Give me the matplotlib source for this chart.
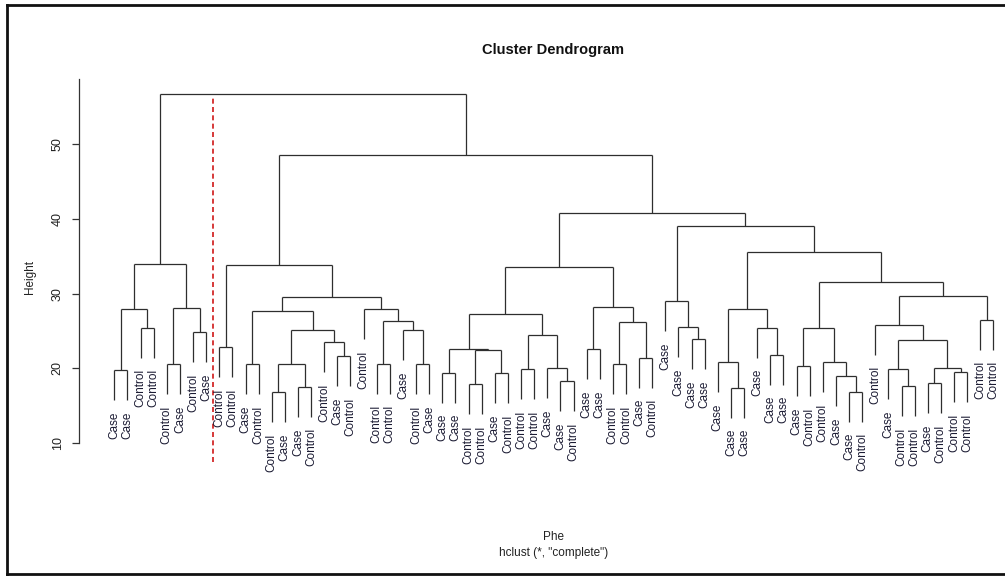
import matplotlib
matplotlib.use("Agg")
import matplotlib.pyplot as plt
from matplotlib.lines import Line2D

# ---------------- data ----------------
leaf_labels = [
    "Case", "Case", "Control", "Control", "Control", "Case", "Control", "Case",
    "Control", "Control", "Case", "Control", "Control", "Case", "Case", "Control",
    "Control", "Case", "Control", "Control", "Control", "Control", "Case", "Control",
    "Case", "Case", "Case", "Control", "Control", "Case", "Control", "Control",
    "Control", "Case", "Case", "Control", "Case", "Case", "Control", "Control",
    "Case", "Control", "Case", "Case", "Case", "Case", "Case", "Case",
    "Case", "Case", "Case", "Case", "Case", "Control", "Control", "Case",
    "Case", "Control", "Control", "Case", "Control", "Control", "Case", "Control",
    "Control", "Control", "Control", "Control",
]

# R-style merge matrix: negative = leaf (1-based, in plotted order), positive = earlier merge (1-based)
merge_left = [
    -1, -3, 1, -5, -7, 4, 3,
    -9, -11, -13, -15, 10, -18, -17, 12, 9, -21, -24, -23, 17, -20, 16, 8,
    -26, -28, -30, 25, 24, -32, -35, -34, 29, 28, -37, -39, -41, 35, 34, 33,
    -45, -44, -43, -48, -47, -51, -50, 44, -53, -57, -56, -55, 48, -61, -60,
    -63, -65, 55, 54, -59, -67, 59, 52, 47, 42, 39, 23, 7,
]
merge_right = [
    -2, -4, 2, -6, -8, 5, 6,
    -10, -12, -14, -16, 11, -19, 13, 14, 15, -22, -25, 18, 19, 20, 21, 22,
    -27, -29, -31, 26, 27, -33, -36, 30, 31, 32, -38, -40, -42, 36, 37, 38,
    -46, 40, 41, -49, 43, -52, 45, 46, -54, -58, 49, 50, 51, -62, 53,
    -64, -66, 56, 57, 58, -68, 60, 61, 62, 63, 64, 65, 66,
]
merge_height = [
    19.79, 25.41, 27.91, 20.55, 24.87, 28.05, 34.02,
    22.86, 20.55, 16.80, 17.51, 20.55, 21.62, 23.49, 25.14, 27.68, 20.63, 20.55, 25.14, 26.35, 27.91, 29.56, 33.88,
    19.42, 17.87, 19.34, 22.46, 22.56, 19.88, 18.27, 20.01, 24.47, 27.32, 22.56, 20.55, 21.43, 26.17, 28.18, 33.57,
    23.90, 25.54, 28.98, 17.42, 20.82, 21.83, 25.45, 27.99, 20.28, 16.88, 18.94, 20.82, 25.45, 17.64, 19.88,
    18.00, 19.48, 20.01, 23.76, 25.81, 26.48, 29.73, 31.57, 35.58, 39.06, 40.80, 48.58, 56.73,
]
y_ticks = [10, 20, 30, 40, 50]
cut_position = 8.5          # between leaf 8 and leaf 9
cut_range = (7.47, 56.33)

title = "Cluster Dendrogram"
x_label = "Phe"
sub_label = 'hclust (*, "complete")'
y_label = "Height"

# ---------------- style ----------------
plt.rcParams["font.family"] = ["Liberation Sans", "DejaVu Sans"]
line_col = "#2e2e2e"
text_col = "#1b1b33"

fig = plt.figure(figsize=(10.05, 5.76), dpi=100)
ax = fig.add_axes([79 / 1005, 76 / 576, 926 / 1005, 421 / 576])

n_leaves = len(leaf_labels)
hang = 0.1 * (max(merge_height) - min(merge_height))

node_x = {}
def child_xy(c):
    if c < 0:
        return float(-c), None
    return node_x[c], merge_height[c - 1]

for k, (a, b, h) in enumerate(zip(merge_left, merge_right, merge_height), start=1):
    xa, ha = child_xy(a)
    xb, hb = child_xy(b)
    node_x[k] = (xa + xb) / 2.0
    ax.plot([xa, xb], [h, h], color=line_col, lw=0.9, solid_capstyle="butt")
    for c, xc, hc in ((a, xa, ha), (b, xb, hb)):
        bottom = hc if hc is not None else h - hang
        ax.plot([xc, xc], [h, bottom], color=line_col, lw=0.9, solid_capstyle="butt")
        if c < 0:
            ax.annotate(leaf_labels[-c - 1], xy=(xc, bottom), xytext=(0, -8.3),
                        textcoords="offset points", rotation=90, ha="center", va="top",
                        fontsize=8.5, color=text_col, annotation_clip=False)

# cut line
ax.plot([cut_position, cut_position], list(cut_range), color="#d01818", lw=1.2,
        dashes=(3, 2), clip_on=False)

ax.set_xlim(1 + (79 - 114.3) / 13.12, 1 + (1005 - 114.3) / 13.12)
ax.set_ylim(50 - (500 - 144.3) / 7.47, 50 + (144.3 - 79) / 7.47)

for s in ("top", "right", "bottom"):
    ax.spines[s].set_visible(False)
ax.spines["left"].set_bounds(10, ax.get_ylim()[1])
ax.spines["left"].set_color("#333333")
ax.spines["left"].set_linewidth(0.9)
ax.set_xticks([])
ax.set_yticks(y_ticks)
ax.set_yticklabels([str(t) for t in y_ticks], rotation=90, va="center", fontsize=9)
ax.tick_params(axis="y", length=5, width=0.9, pad=6, colors="#333333", labelcolor="#222222")
ax.patch.set_alpha(0)

fig.text(553.5 / 1005, 1 - 50 / 576, title, ha="center", va="center",
         fontsize=10.5, fontweight="bold", color="#111111")
fig.text(553.5 / 1005, 1 - 537 / 576, x_label, ha="center", va="center",
         fontsize=8.5, color="#222222")
fig.text(553.5 / 1005, 1 - 553 / 576, sub_label, ha="center", va="center",
         fontsize=8.5, color="#222222")
fig.text(30 / 1005, 1 - 277 / 576, y_label, ha="center", va="center", rotation=90,
         fontsize=8.5, color="#222222")

# outer frame (left, top, bottom edges)
frame_kw = dict(color="#111111", lw=2.0, transform=fig.transFigure)
fig.add_artist(Line2D([7 / 1005, 7 / 1005], [0, 1 - 5 / 576], **frame_kw))
fig.add_artist(Line2D([7 / 1005, 1], [1 - 5 / 576, 1 - 5 / 576], **frame_kw))
fig.add_artist(Line2D([7 / 1005, 1], [1 - 574 / 576, 1 - 574 / 576], **frame_kw))

fig.savefig("out.png", dpi=100)
